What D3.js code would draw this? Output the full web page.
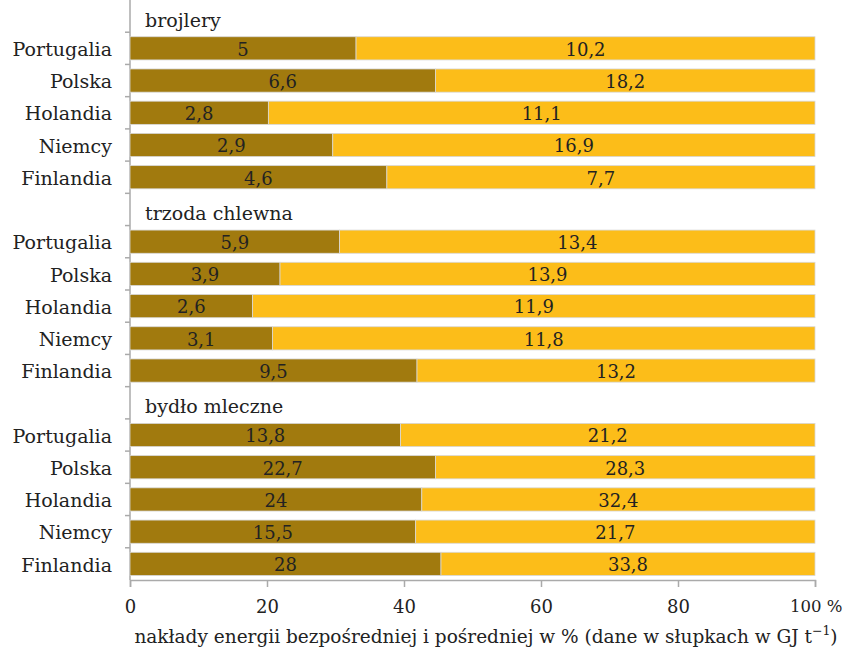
<!DOCTYPE html>
<html>
<head>
<meta charset="utf-8">
<script src="https://cdn.jsdelivr.net/npm/d3@7"></script>
<style>
  body { margin: 0; background: #fff; }
  svg text { font-family: "DejaVu Serif", "Liberation Serif", serif; fill: #222; }
</style>
</head>
<body>
<svg id="chart" width="845" height="649"></svg>
<script>
// Direct (dark) and indirect (yellow) energy inputs, GJ per tonne
const groups = ["brojlery", "trzoda chlewna", "bydło mleczne"];
const countries = ["Portugalia", "Polska", "Holandia", "Niemcy", "Finlandia"];
const direct = [
  [5, 6.6, 2.8, 2.9, 4.6],
  [5.9, 3.9, 2.6, 3.1, 9.5],
  [13.8, 22.7, 24, 15.5, 28]
];
const indirect = [
  [10.2, 18.2, 11.1, 16.9, 7.7],
  [13.4, 13.9, 11.9, 11.8, 13.2],
  [21.2, 28.3, 32.4, 21.7, 33.8]
];
// Share of direct energy in total input, %
const directShare = [
  [33.0, 44.6, 20.2, 29.6, 37.5],
  [30.6, 21.9, 17.9, 20.8, 41.9],
  [39.5, 44.6, 42.6, 41.7, 45.4]
];
const xTicks = [0, 20, 40, 60, 80, 100];
const xTitle = "nakłady energii bezpośredniej i pośredniej w % (dane w słupkach w GJ t";

const colDirect = "#A17A0E";
const colIndirect = "#FCBD19";

const svg = d3.select("#chart");
const left = 130, right = 815, plotBottom = 580;

// One band per row: group heading followed by its countries
const rows = [];
groups.forEach((g, gi) => {
  rows.push({ key: "h" + gi, type: "head", label: g });
  countries.forEach((c, ci) => {
    rows.push({ key: gi + "-" + ci, type: "bar", label: c,
      d: direct[gi][ci], ind: indirect[gi][ci], share: directShare[gi][ci] });
  });
});

const x = d3.scaleLinear().domain([0, 100]).range([left, right]);
const y = d3.scaleBand().domain(rows.map(r => r.key)).range([0, plotBottom]).paddingInner(0.28).paddingOuter(0.14);

const fmt = v => String(v).replace(".", ",");

// y axis line with ticks at band boundaries
const step = y.step();
svg.append("line").attr("x1", left).attr("x2", left)
  .attr("y1", 0).attr("y2", plotBottom).attr("stroke", "#aaa").attr("stroke-width", 1.5);
d3.range(1, rows.length).forEach(i => {
  svg.append("line").attr("x1", left - 5).attr("x2", left)
    .attr("y1", i * step).attr("y2", i * step).attr("stroke", "#aaa").attr("stroke-width", 1.5);
});

const barRows = rows.filter(r => r.type === "bar");
const g = svg.append("g");

g.selectAll("rect.direct").data(barRows).join("rect")
  .attr("x", x(0)).attr("y", r => y(r.key))
  .attr("width", r => x(r.share) - x(0)).attr("height", y.bandwidth())
  .attr("fill", colDirect).attr("stroke", "#d8d8d8").attr("stroke-width", 0.8);

g.selectAll("rect.indirect").data(barRows).join("rect")
  .attr("x", r => x(r.share)).attr("y", r => y(r.key))
  .attr("width", r => x(100) - x(r.share)).attr("height", y.bandwidth())
  .attr("fill", colIndirect).attr("stroke", "#d8d8d8").attr("stroke-width", 0.8);

// value labels in the middle of each segment
g.selectAll("text.vd").data(barRows).join("text")
  .attr("x", r => (x(0) + x(r.share)) / 2).attr("y", r => y(r.key) + y.bandwidth() / 2 + 1)
  .attr("dy", "0.35em").attr("text-anchor", "middle").attr("font-size", 18)
  .text(r => fmt(r.d));
g.selectAll("text.vi").data(barRows).join("text")
  .attr("x", r => (x(r.share) + x(100)) / 2).attr("y", r => y(r.key) + y.bandwidth() / 2 + 1)
  .attr("dy", "0.35em").attr("text-anchor", "middle").attr("font-size", 18)
  .text(r => fmt(r.ind));

// country labels
svg.selectAll("text.cat").data(barRows).join("text")
  .attr("x", 112).attr("y", r => y(r.key) + y.bandwidth() / 2 + 1)
  .attr("dy", "0.35em").attr("text-anchor", "end").attr("font-size", 19)
  .text(r => r.label);

// group headings
svg.selectAll("text.head").data(rows.filter(r => r.type === "head")).join("text")
  .attr("x", 145).attr("y", r => y(r.key) + y.bandwidth() / 2 + 4)
  .attr("dy", "0.35em").attr("font-size", 19)
  .text(r => r.label);

// x axis
const xAxis = svg.append("g").attr("transform", `translate(0,${plotBottom})`)
  .call(d3.axisBottom(x).tickValues(xTicks).tickSize(7).tickFormat(d => d === 100 ? "100 %" : d));
xAxis.select(".domain").attr("stroke", "#aaa").attr("stroke-width", 1.5);
xAxis.selectAll(".tick line").attr("stroke", "#aaa").attr("stroke-width", 1.5);
xAxis.selectAll(".tick text").attr("font-size", 18).attr("font-family", "DejaVu Serif, Liberation Serif, serif")
  .attr("fill", "#222").attr("dy", "1.25em");
xAxis.selectAll(".tick").filter(d => d === 100).select("text")
  .attr("text-anchor", "end").attr("x", 27).attr("font-size", 16.5).attr("dy", "1.35em");

const title = svg.append("text").attr("x", 486).attr("y", 643).attr("text-anchor", "middle").attr("font-size", 18.5);
title.append("tspan").text(xTitle);
title.append("tspan").attr("dy", -8).attr("font-size", 12.5).text("−1");
title.append("tspan").attr("dy", 8).text(")");
</script>
</body>
</html>
